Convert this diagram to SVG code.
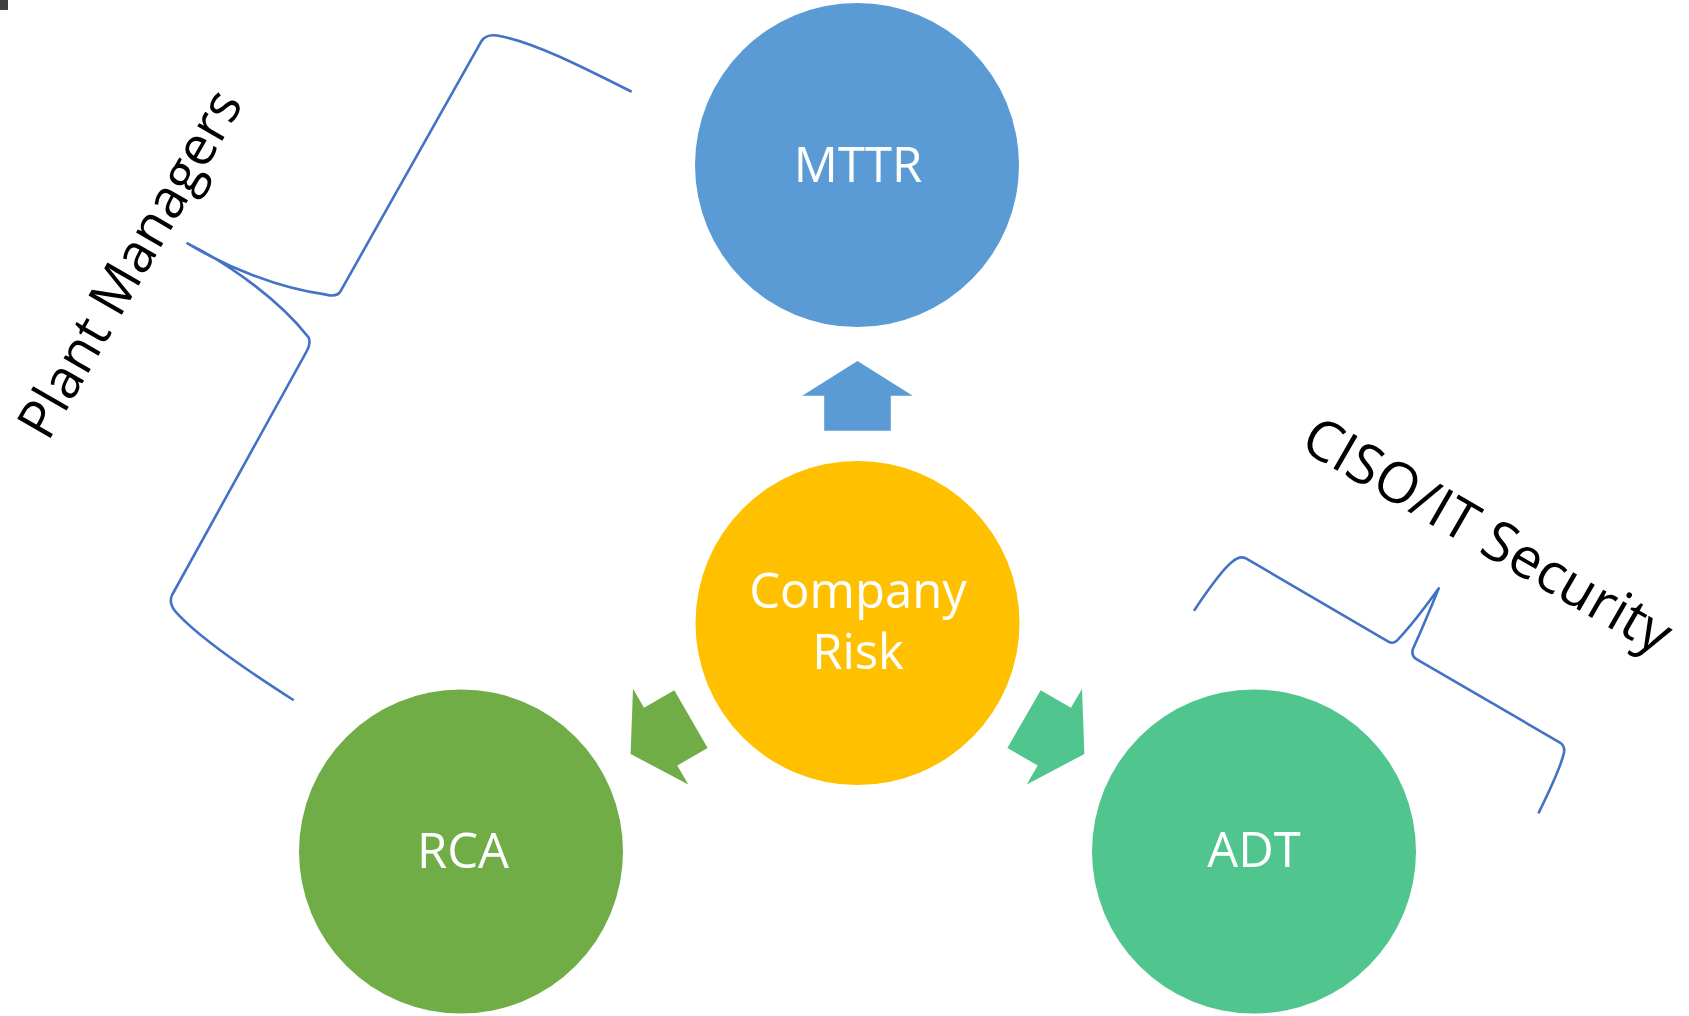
<svg xmlns="http://www.w3.org/2000/svg" width="1689" height="1016" viewBox="0 0 1689 1016">
<style>
.node-text{font-family:"Open Sans","Noto Sans","Liberation Sans",sans-serif;font-size:49px;fill:#ffffff;text-anchor:middle}
.label{font-family:"Open Sans","Noto Sans","Liberation Sans",sans-serif;font-size:56px;fill:#000000;text-anchor:middle}
.brace{fill:none;stroke:#4472C4;stroke-width:2.6;stroke-linejoin:round;stroke-linecap:butt}
</style>
<defs>
<path id="arrowShape" d="M0,-262 L55.3,-227.3 L33.3,-227.3 L33.3,-192.3 L-33.3,-192.3 L-33.3,-227.3 L-55.3,-227.3 Z"/>
</defs>
<rect width="1689" height="1016" fill="#ffffff"/>
<rect x="0" y="0" width="8" height="10" fill="#404040"/>

<g id="connectors">
<use href="#arrowShape" transform="translate(857.5,623)" fill="#5B9BD5"/>
<use href="#arrowShape" transform="translate(857.5,623) rotate(-120)" fill="#70AD47"/>
<use href="#arrowShape" transform="translate(857.5,623) rotate(120)" fill="#50C58E"/>
</g>

<g id="node-mttr">
<circle cx="857" cy="165" r="162" fill="#5B9BD5"/>
<text class="node-text" x="858" y="182">MTTR</text>
</g>
<g id="node-company-risk">
<circle cx="857.5" cy="623" r="162" fill="#FFC000"/>
<text class="node-text" x="858" y="608">Company</text>
<text class="node-text" x="858" y="669">Risk</text>
</g>
<g id="node-rca">
<circle cx="461" cy="851.5" r="162" fill="#70AD47"/>
<text class="node-text" x="463" y="868">RCA</text>
</g>
<g id="node-adt">
<circle cx="1254" cy="851.5" r="162" fill="#50C58E"/>
<text class="node-text" x="1254" y="867">ADT</text>
</g>

<g id="group-plant-managers">
<path class="brace" transform="translate(187.5,243.3) rotate(120)" d="M-353.3,-308.9 C-350,-250 -347,-200 -336,-168 Q-332,-154 -322,-153.5 L-36,-156.5 Q-28,-157 -25,-146 C-6,-100 1,-45 0,0 C-3,-50 4,-110 21,-152 Q25,-157.2 34,-157.2 L312,-162.5 Q322,-163 326,-177 C336,-210 340,-262 342.6,-320.5"/>
<text class="label" style="font-size:54px" transform="translate(146,273) rotate(-60)" x="0" y="0">Plant Managers</text>
</g>

<g id="group-ciso">
<path class="brace" transform="matrix(0.866,0.5,0.5,-0.866,1438.8,588.3)" d="M-200.8,-141.8 C-199,-115 -197,-92 -192,-80 Q-189,-71 -182,-70.5 L-17,-71.5 Q-12,-71.5 -10,-66 C-5,-45 -2,-20 0,0 C3,-22 6,-45 8,-66 Q10,-72.4 16,-72.5 L182,-73 Q189,-73.5 191,-81 C195,-95 197,-118 198.8,-145.1"/>
<text class="label" transform="translate(1478,552) rotate(30)" x="0" y="0">CISO/IT Security</text>
</g>
</svg>
